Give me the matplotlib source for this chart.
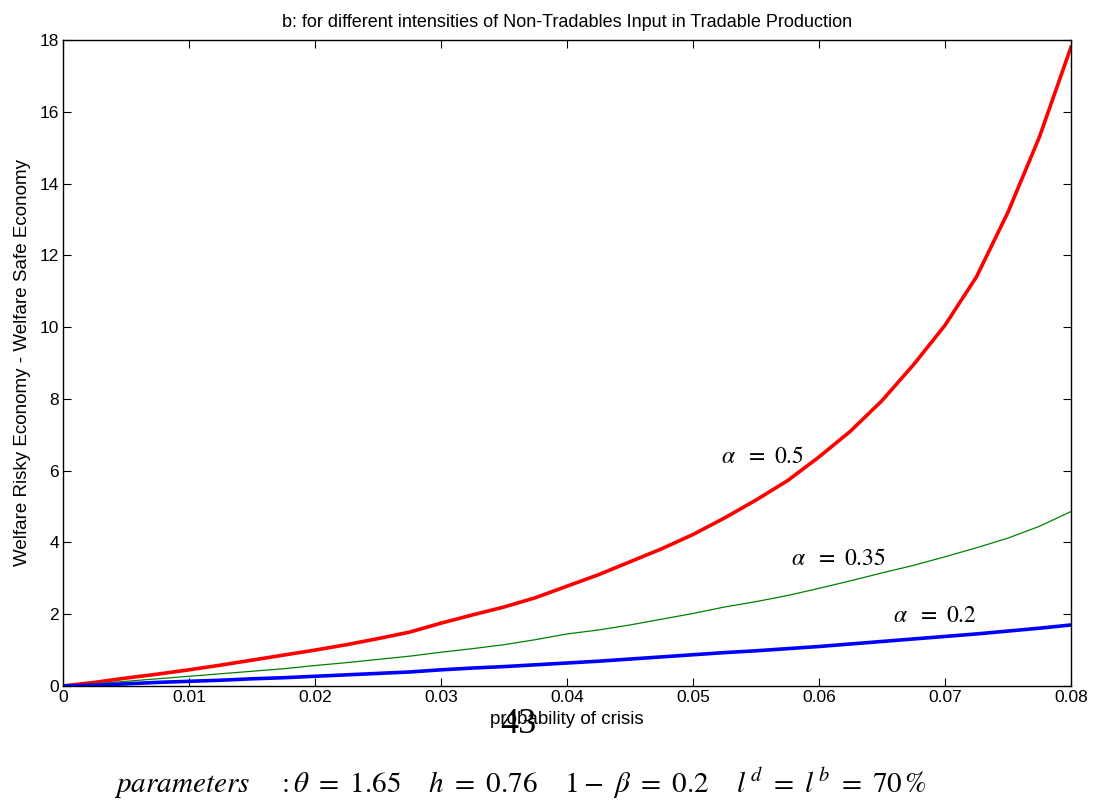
import matplotlib
matplotlib.use("Agg")
import matplotlib.pyplot as plt

# --- Data ---------------------------------------------------------------------

prob = [0.0, 0.0025, 0.005, 0.0075, 0.01, 0.0125, 0.015, 0.0175, 0.02,
        0.0225, 0.025, 0.0275, 0.03, 0.0325, 0.035, 0.0375, 0.04,
        0.0425, 0.045, 0.0475, 0.05, 0.0525, 0.055, 0.0575, 0.06,
        0.0625, 0.065, 0.0675, 0.07, 0.0725, 0.075, 0.0775, 0.08]

alpha_05 = [0.0, 0.1, 0.22, 0.33, 0.45, 0.58, 0.72, 0.86, 1.0,
            1.15, 1.32, 1.5, 1.75, 1.98, 2.2, 2.46, 2.78,
            3.1, 3.46, 3.82, 4.22, 4.68, 5.18, 5.72, 6.38,
            7.1, 7.95, 8.95, 10.05, 11.4, 13.2, 15.3, 17.8]
alpha_035 = [0.0, 0.06, 0.13, 0.2, 0.27, 0.34, 0.41, 0.48, 0.57,
             0.65, 0.74, 0.83, 0.94, 1.04, 1.15, 1.29, 1.45,
             1.56, 1.7, 1.86, 2.02, 2.2, 2.35, 2.52, 2.72,
             2.93, 3.15, 3.36, 3.6, 3.85, 4.12, 4.45, 4.86]
alpha_02 = [0.0, 0.02, 0.06, 0.1, 0.13, 0.16, 0.2, 0.23, 0.27,
            0.31, 0.35, 0.39, 0.45, 0.5, 0.54, 0.59, 0.64,
            0.69, 0.75, 0.81, 0.87, 0.93, 0.98, 1.04, 1.1,
            1.17, 1.24, 1.31, 1.38, 1.45, 1.53, 1.61, 1.7]

xticks = [0, 0.01, 0.02, 0.03, 0.04, 0.05, 0.06, 0.07, 0.08]
xticklabels = ["0", "0.01", "0.02", "0.03", "0.04", "0.05", "0.06", "0.07", "0.08"]
yticks = [0, 2, 4, 6, 8, 10, 12, 14, 16, 18]

# --- Plot ---------------------------------------------------------------------

plt.rcParams["font.family"] = ["Liberation Sans", "DejaVu Sans"]
plt.rcParams["mathtext.fontset"] = "stix"

fig = plt.figure(figsize=(11.05, 8.01), dpi=100)
ax = fig.add_axes([0.057, 0.1436, 0.9122, 0.8065])

ax.plot(prob, alpha_05, color="#ff0000", linewidth=2.6)
ax.plot(prob, alpha_035, color="#008000", linewidth=0.9)
ax.plot(prob, alpha_02, color="#0000ff", linewidth=2.6)

ax.set_xlim(0, 0.08)
ax.set_ylim(0, 18)
ax.set_xticks(xticks)
ax.set_xticklabels(xticklabels)
ax.set_yticks(yticks)
ax.tick_params(direction="in", top=True, right=True, labelsize=12.5, length=6, pad=3)
for s in ax.spines.values():
    s.set_linewidth(1.0)

ax.set_title("b: for different intensities of Non-Tradables Input in Tradable Production",
             fontsize=13, pad=9)
ax.set_xlabel("probability of crisis", fontsize=13.5, labelpad=4)
ax.set_ylabel("Welfare Risky Economy - Welfare Safe Economy", fontsize=13.5, labelpad=6)

ax.text(0.0522, 6.39, r"$\alpha\ \ =\ 0.5$", fontsize=17, ha="left", va="center")
ax.text(0.0578, 3.55, r"$\alpha\ \ =\ 0.35$", fontsize=17, ha="left", va="center")
ax.text(0.0659, 1.95, r"$\alpha\ \ =\ 0.2$", fontsize=17, ha="left", va="center")

# page number and parameter line from the source document
fig.text(0.469, 0.095, "43", fontsize=26, family="Liberation Serif", ha="center", va="center")
fig.text(0.471, 0.022,
         r"$parameters\quad\ :\theta\ =\ 1.65\quad\ h\ =\ 0.76\quad\ 1-\ \beta\ =\ 0.2"
         r"\quad\ l^{\,d}\ =\ l^{\,b}\ =\ 70\,\%$",
         fontsize=21, ha="center", va="center")

plt.savefig("out.png", dpi=100)
plt.close()
